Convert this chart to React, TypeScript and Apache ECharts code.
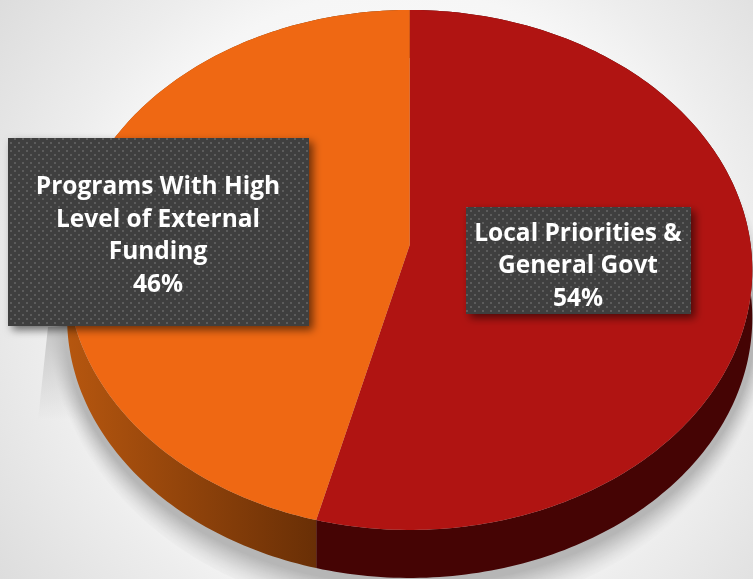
import React, { useEffect, useRef } from "react";
import * as echarts from "echarts";

// Budget split, in percent, clockwise from twelve o'clock.
const sliceNames = ["Local Priorities &\nGeneral Govt", "Programs With High\nLevel of External\nFunding"];
const sliceValues = [54, 46];
const topColors = ["#b01412", "#ef6813"];

const WIDTH = 753;
const HEIGHT = 579;

// Tilted disc: projective view of a unit circle, so the hub sits above the ellipse's middle.
const HUB_X = 409.7;
const HUB_Y = 245;
const SPREAD_X = 341;
const SPREAD_Y = 257.6;
const PERSPECTIVE = 0.096;
const DEPTH = 48;
const ELLIPSE_MID_Y = 270;

const project = (turn: number, dy = 0): number[] => {
  const a = turn * Math.PI * 2;
  const u = Math.sin(a);
  const v = -Math.cos(a);
  const w = 1 - PERSPECTIVE * v;
  return [HUB_X + (SPREAD_X * u) / w, HUB_Y + (SPREAD_Y * v) / w + dy];
};

const arc = (from: number, to: number, dy = 0): number[][] => {
  const steps = Math.max(2, Math.ceil((to - from) * 360));
  const pts: number[][] = [];
  for (let i = 0; i <= steps; i++) pts.push(project(from + ((to - from) * i) / steps, dy));
  return pts;
};

const total = sliceValues.reduce((s, v) => s + v, 0);
const sliceRange = (i: number): number[] => {
  const start = sliceValues.slice(0, i).reduce((s, v) => s + v, 0) / total;
  return [start, start + sliceValues[i] / total];
};

const wallFills = [
  "#450404",
  new echarts.graphic.LinearGradient(70, 0, 316, 0, [
    { offset: 0, color: "#b5560f" },
    { offset: 1, color: "#692f06" },
  ], true),
];

// Ground shadow: opaque outlines painted from the outermost inwards, each a little darker.
const SHADOW_LAYERS = 26;
const shadowLayer = (k: number) => {
  const t = k / (SHADOW_LAYERS - 1);
  const grow = 38 - 30 * t;
  const midY = ELLIPSE_MID_Y + DEPTH;
  const points = arc(0, 1, DEPTH).map(([x, y]) => [
    HUB_X + (x - HUB_X) * (1 + (0.5 * grow) / SPREAD_X),
    midY + (y - midY) * (1 + grow / 260),
  ]);
  const level = Math.round(236 - 54 * Math.pow(t, 1.3));
  return {
    type: "polygon",
    z2: k,
    shape: { points },
    style: { fill: `rgb(${level},${level},${level})` },
  };
};

// Annotation boxes: edges plus the centre of the text block.
const boxLayouts = [
  { l: 466, t: 207, r: 691, b: 314, cx: 578, cy: 263.5 },
  { l: 8, t: 138, r: 309, b: 326, cx: 158, cy: 233.5 },
];

const dotTile = (): HTMLCanvasElement => {
  const c = document.createElement("canvas");
  c.width = 8;
  c.height = 8;
  const g = c.getContext("2d")!;
  g.fillStyle = "#3f3f3f";
  g.fillRect(0, 0, 8, 8);
  g.fillStyle = "#5c5c5c";
  g.fillRect(6, 2, 2, 2);
  g.fillRect(2, 6, 2, 2);
  return c;
};

const App: React.FC = () => {
  const ref = useRef<HTMLDivElement>(null);

  useEffect(() => {
    document.body.style.margin = "0";
    const chart = echarts.init(ref.current!, undefined, { renderer: "svg" });
    const tile = dotTile();
    chart.setOption({
      animation: false,
      graphic: [
        {
          type: "rect",
          z: -10,
          shape: { x: 0, y: 0, width: WIDTH, height: HEIGHT },
          style: {
            fill: new echarts.graphic.RadialGradient(400, 290, 500, [
              { offset: 0, color: "#ffffff" },
              { offset: 0.6, color: "#f6f6f6" },
              { offset: 0.72, color: "#ededed" },
              { offset: 1, color: "#dcdcdc" },
            ], true),
          },
        },
        {
          // Faint streak under the left edge of the disc.
          type: "polygon",
          z: 1.5,
          shape: { points: [[48, 327], [72, 327], [88, 420], [38, 420]] },
          style: {
            fill: new echarts.graphic.LinearGradient(0, 327, 0, 420, [
              { offset: 0, color: "rgba(190,190,190,0.85)" },
              { offset: 1, color: "rgba(190,190,190,0)" },
            ], true),
          },
        },
      ],
      series: [
        {
          // Soft shadow on the ground.
          type: "custom",
          coordinateSystem: "none",
          z: 1,
          silent: true,
          data: [total],
          renderItem: () => ({
            type: "group",
            children: Array.from({ length: SHADOW_LAYERS }, (_, k) => shadowLayer(k)),
          }),
        },
        {
          // Rim of the disc.
          type: "custom",
          coordinateSystem: "none",
          z: 2,
          silent: true,
          data: sliceValues,
          renderItem: (params: any) => {
            const [from, to] = sliceRange(params.dataIndex);
            return {
              type: "polygon",
              shape: { points: [...arc(from, to), ...arc(from, to, DEPTH).reverse()] },
              style: { fill: wallFills[params.dataIndex] },
            };
          },
        },
        {
          // Top faces.
          type: "custom",
          coordinateSystem: "none",
          z: 3,
          silent: true,
          data: sliceValues,
          renderItem: (params: any) => {
            const [from, to] = sliceRange(params.dataIndex);
            return {
              type: "polygon",
              shape: { points: [[HUB_X, HUB_Y], ...arc(from, to)] },
              style: { fill: topColors[params.dataIndex] },
            };
          },
        },
        {
          // Dotted annotation boxes stating each share.
          type: "custom",
          coordinateSystem: "none",
          z: 4,
          silent: true,
          data: sliceValues,
          renderItem: (params: any) => {
            const i = params.dataIndex;
            const box = boxLayouts[i];
            return {
              type: "group",
              children: [
                {
                  type: "rect",
                  shape: { x: box.l, y: box.t, width: box.r - box.l, height: box.b - box.t },
                  style: {
                    fill: "#3f3f3f",
                    shadowBlur: 9,
                    shadowOffsetX: 4,
                    shadowOffsetY: 4,
                    shadowColor: "rgba(0,0,0,0.55)",
                  },
                },
                {
                  type: "rect",
                  shape: { x: box.l, y: box.t, width: box.r - box.l, height: box.b - box.t },
                  style: { fill: { image: tile, repeat: "repeat", imageWidth: 8, imageHeight: 8 } },
                },
                {
                  type: "text",
                  style: {
                    x: box.cx,
                    y: box.cy,
                    text: `${sliceNames[i]}\n${sliceValues[i]}%`,
                    fill: "#ffffff",
                    font: 'bold 24.5px "Open Sans"',
                    align: "center",
                    verticalAlign: "middle",
                    lineHeight: 32.5,
                  },
                },
              ],
            };
          },
        },
      ],
    });
    return () => chart.dispose();
  }, []);

  return <div ref={ref} style={{ position: "fixed", left: 0, top: 0, width: WIDTH, height: HEIGHT }} />;
};

export default App;
